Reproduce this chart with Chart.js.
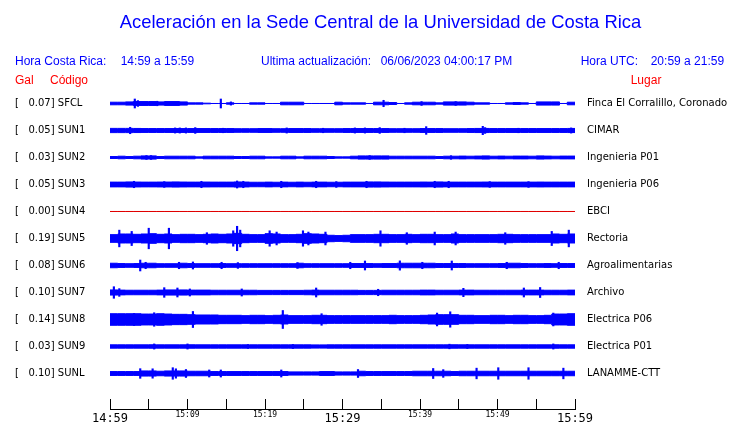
<!DOCTYPE html>
<html><head><meta charset="utf-8">
<script src="https://cdn.jsdelivr.net/npm/chart.js@4"></script>
<style>html,body{margin:0;padding:0;background:#fff}#wrap{width:740px;height:423px;position:relative}</style>
</head><body><div id="wrap"><canvas id="c" width="740" height="423"></canvas></div>
<script>
// ---------- DATA ----------
const codes = ['SFCL','SUN1','SUN2','SUN3','SUN4','SUN5','SUN6','SUN7','SUN8','SUN9','SUNL'];
const places = ['Finca El Corralillo, Coronado','CIMAR','Ingenieria P01','Ingenieria P06','EBCI','Rectoria','Agroalimentarias','Archivo','Electrica P06','Electrica P01','LANAMME-CTT'];
const peakGal = [0.07,0.05,0.03,0.05,0.00,0.19,0.08,0.10,0.14,0.03,0.10];
const timeTicks = ['14:59','','15:09','','15:19','','15:29','','15:39','','15:49','','15:59'];

// half-amplitude of the trace band (Gal), one value per minute (0..59)
const bandSFCL = [0.02,0.02,0.025,0.03,0.03,0.03,0.025,0.03,0.03,0.025,
 0.01,0.01,0.005,0,0,0.01,0,0,0.01,0.01,
 0,0,0.02,0.02,0.02,0,0,0,0,0.02,
 0.01,0.01,0.01,0,0.02,0.02,0.015,0,0.01,0.02,
 0.02,0.02,0.01,0.025,0.025,0.025,0.02,0.01,0.01,0,
 0,0.01,0.015,0.01,0,0.025,0.025,0.025,0,0.02];
const bandSUN1 = [0.033,0.033,0.033,0.032,0.03,0.03,0.03,0.03,0.03,0.03,
 0.03,0.03,0.03,0.03,0.03,0.03,0.028,0.028,0.028,0.03,
 0.03,0.028,0.028,0.03,0.03,0.03,0.028,0.028,0.028,0.028,
 0.03,0.03,0.03,0.03,0.03,0.03,0.028,0.028,0.028,0.028,
 0.03,0.03,0.03,0.028,0.028,0.028,0.03,0.032,0.032,0.03,
 0.03,0.03,0.03,0.03,0.03,0.03,0.03,0.03,0.03,0.032];
const bandSUN2 = [0.015,0.02,0.015,0.02,0.025,0.025,0.015,0.02,0.02,0.02,
 0.02,0.01,0.02,0.02,0.02,0.02,0.015,0.015,0.02,0.02,
 0.01,0.01,0.02,0.02,0.01,0.02,0.02,0.02,0.015,0.01,
 0.01,0.02,0.025,0.025,0.025,0.025,0.02,0.02,0.02,0.02,
 0.02,0.02,0.015,0.02,0.02,0.022,0.02,0.022,0.025,0.02,
 0.022,0.02,0.022,0.022,0.02,0.025,0.022,0.02,0.022,0.022];
const bandSUN3 = [0.037,0.037,0.04,0.038,0.037,0.037,0.038,0.038,0.04,0.038,
 0.037,0.037,0.038,0.037,0.037,0.037,0.04,0.038,0.035,0.035,
 0.037,0.035,0.037,0.035,0.037,0.035,0.037,0.037,0.035,0.035,
 0.037,0.037,0.037,0.04,0.04,0.038,0.037,0.037,0.037,0.037,
 0.038,0.037,0.04,0.037,0.037,0.037,0.037,0.037,0.038,0.037,
 0.037,0.037,0.037,0.037,0.037,0.038,0.037,0.037,0.037,0.037];
const bandSUN4 = [0,0,0,0,0,0,0,0,0,0, 0,0,0,0,0,0,0,0,0,0, 0,0,0,0,0,0,0,0,0,0,
 0,0,0,0,0,0,0,0,0,0, 0,0,0,0,0,0,0,0,0,0, 0,0,0,0,0,0,0,0,0,0];
const bandSUN5 = [0.06,0.07,0.07,0.065,0.07,0.075,0.065,0.07,0.06,0.065,
 0.065,0.06,0.065,0.07,0.065,0.07,0.08,0.065,0.06,0.06,
 0.075,0.07,0.06,0.06,0.065,0.075,0.07,0.065,0.05,0.045,
 0.05,0.06,0.06,0.06,0.065,0.065,0.06,0.06,0.065,0.06,
 0.065,0.065,0.06,0.06,0.07,0.06,0.06,0.06,0.06,0.06,
 0.065,0.065,0.06,0.06,0.06,0.06,0.06,0.07,0.065,0.07];
const bandSUN6 = [0.035,0.03,0.028,0.03,0.035,0.035,0.028,0.028,0.028,0.035,
 0.03,0.028,0.028,0.028,0.03,0.028,0.028,0.028,0.028,0.028,
 0.028,0.028,0.028,0.028,0.035,0.028,0.028,0.028,0.028,0.028,
 0.028,0.03,0.03,0.03,0.028,0.03,0.03,0.035,0.035,0.035,
 0.035,0.035,0.03,0.03,0.03,0.03,0.028,0.028,0.028,0.028,
 0.03,0.035,0.035,0.03,0.028,0.028,0.03,0.028,0.03,0.03];
const bandSUN7 = [0.04,0.037,0.035,0.035,0.035,0.035,0.037,0.04,0.04,0.04,
 0.037,0.037,0.037,0.035,0.035,0.035,0.035,0.035,0.035,0.033,
 0.033,0.033,0.033,0.033,0.033,0.035,0.037,0.035,0.035,0.035,
 0.035,0.035,0.033,0.033,0.033,0.035,0.035,0.035,0.035,0.035,
 0.037,0.037,0.035,0.035,0.035,0.037,0.037,0.035,0.035,0.035,
 0.035,0.035,0.035,0.037,0.037,0.037,0.035,0.035,0.035,0.037];
const bandSUN8 = [0.09,0.09,0.09,0.09,0.085,0.085,0.09,0.085,0.08,0.08,
 0.075,0.07,0.07,0.07,0.065,0.065,0.065,0.06,0.065,0.065,
 0.06,0.065,0.07,0.06,0.06,0.06,0.065,0.065,0.06,0.06,
 0.06,0.06,0.06,0.06,0.06,0.06,0.065,0.06,0.06,0.06,
 0.065,0.07,0.075,0.075,0.075,0.065,0.065,0.06,0.06,0.065,
 0.065,0.06,0.065,0.065,0.06,0.06,0.065,0.085,0.085,0.09];
const bandSUN9 = [0.026,0.026,0.026,0.026,0.026,0.027,0.026,0.026,0.026,0.026,
 0.027,0.026,0.026,0.026,0.026,0.026,0.026,0.026,0.026,0.026,
 0.026,0.026,0.026,0.026,0.026,0.026,0.025,0.025,0.026,0.026,
 0.026,0.026,0.026,0.026,0.026,0.026,0.026,0.026,0.026,0.026,
 0.026,0.026,0.026,0.026,0.027,0.026,0.026,0.026,0.026,0.026,
 0.026,0.026,0.026,0.026,0.026,0.026,0.026,0.027,0.026,0.026];
const bandSUNL = [0.03,0.03,0.03,0.03,0.04,0.04,0.035,0.04,0.04,0.04,
 0.035,0.035,0.035,0.03,0.03,0.03,0.03,0.03,0.03,0.03,
 0.03,0.03,0.03,0.025,0.025,0.025,0.025,0.03,0.03,0.025,
 0.025,0.025,0.035,0.03,0.03,0.03,0.03,0.03,0.03,0.035,
 0.035,0.035,0.035,0.035,0.03,0.035,0.035,0.035,0.035,0.035,
 0.035,0.035,0.035,0.035,0.035,0.035,0.035,0.035,0.035,0.035];

// isolated peaks: [minute after 14:59, half-amplitude in Gal]
const spikesSFCL = [[3.2,0.07],[3.6,0.045],[6.1,0.035],[14.3,0.07],[15.6,0.025],[35.3,0.05],[40.2,0.03],[44.6,0.03]];
const spikesSUN1 = [[2.6,0.05],[8.4,0.04],[9.0,0.04],[9.8,0.04],[11.0,0.045],[14.6,0.035],[22.8,0.04],[27.5,0.035],[31.6,0.04],[32.9,0.04],[34.8,0.045],[38.0,0.035],[40.8,0.06],[48.1,0.065],[48.4,0.045],[52.7,0.035],[59.5,0.04]];
const spikesSUN2 = [[4.7,0.03],[5.3,0.03],[33.5,0.03],[44.0,0.028]];
const spikesSUN3 = [[3.1,0.05],[7.0,0.045],[11.8,0.05],[16.4,0.055],[17.2,0.05],[22.1,0.05],[26.6,0.05],[29.2,0.045],[33.1,0.05],[41.9,0.05],[43.7,0.05],[49.0,0.045],[54.0,0.045]];
const spikesSUN4 = [];
const spikesSUN5 = [[1.2,0.13],[2.8,0.11],[5.0,0.16],[7.6,0.16],[12.5,0.09],[15.9,0.12],[16.4,0.19],[16.8,0.13],[20.6,0.12],[21.5,0.1],[24.9,0.12],[25.6,0.1],[27.8,0.1],[34.9,0.12],[38.3,0.09],[41.9,0.1],[44.6,0.1],[51.0,0.09],[57.0,0.11],[59.2,0.13]];
const spikesSUN6 = [[3.9,0.085],[4.6,0.05],[8.9,0.05],[10.7,0.055],[14.4,0.05],[16.5,0.045],[24.2,0.045],[31.0,0.05],[32.9,0.07],[37.4,0.072],[40.3,0.05],[44.1,0.07],[51.2,0.05],[57.9,0.05]];
const spikesSUN7 = [[0.5,0.09],[1.2,0.06],[7.0,0.075],[8.7,0.07],[10.3,0.055],[17.0,0.055],[26.6,0.07],[34.6,0.05],[45.6,0.065],[53.4,0.07],[55.5,0.078]];
const spikesSUN8 = [[3.1,0.095],[5.7,0.105],[10.7,0.125],[22.3,0.14],[27.3,0.09],[42.2,0.1],[43.9,0.12],[57.2,0.1]];
const spikesSUN9 = [[5.7,0.04],[10.0,0.04],[17.8,0.03],[23.6,0.032],[43.8,0.036],[46.1,0.032],[57.2,0.04]];
const spikesSUNL = [[3.9,0.075],[5.5,0.073],[8.1,0.09],[8.5,0.073],[9.8,0.062],[12.8,0.055],[14.3,0.055],[22.1,0.055],[32.0,0.062],[41.7,0.078],[43.0,0.06],[47.3,0.083],[50.1,0.09],[54.0,0.09],[58.5,0.083]];

// ---------- LAYOUT / STYLE ----------
const ROW_GAL = 0.42;           // vertical spacing between traces, in Gal
const BLUE = '#0000ff', RED = '#e00000';
const bands = [bandSFCL,bandSUN1,bandSUN2,bandSUN3,bandSUN4,bandSUN5,bandSUN6,bandSUN7,bandSUN8,bandSUN9,bandSUNL];
const spikes = [spikesSFCL,spikesSUN1,spikesSUN2,spikesSUN3,spikesSUN4,spikesSUN5,spikesSUN6,spikesSUN7,spikesSUN8,spikesSUN9,spikesSUNL];

const datasets = [];
const spikeData = [];
bands.forEach((band, k) => {
  const c = k * ROW_GAL;
  const color = peakGal[k] === 0 ? RED : BLUE;
  const pts = s => band.map((a, m) => ({x: m, y: c + s * a})).concat([{x: band.length, y: c + s * band[band.length - 1]}]);
  datasets.push({type: 'line', data: pts(-1), borderColor: color, borderWidth: 1, pointRadius: 0, stepped: 'before', fill: false});
  datasets.push({type: 'line', data: pts(1), borderColor: color, borderWidth: 1, pointRadius: 0, stepped: 'before', fill: '-1', backgroundColor: color});
  spikes[k].forEach(([m, a]) => spikeData.push({x: m, y: [c - a, c + a]}));
});
datasets.push({type: 'bar', data: spikeData, backgroundColor: BLUE, borderWidth: 0, barThickness: 1.5, grouped: false});

const decor = {
  id: 'decor',
  afterDraw(chart) {
    const ctx = chart.ctx, xs = chart.scales.x, bottom = chart.chartArea.bottom;
    ctx.save();
    ctx.strokeStyle = '#000'; ctx.lineWidth = 1;
    xs.ticks.forEach(t => {
      const px = Math.floor(xs.getPixelForValue(t.value)) + 0.5;
      ctx.beginPath(); ctx.moveTo(px, bottom - 10); ctx.lineTo(px, bottom); ctx.stroke();
    });
    ctx.textBaseline = 'alphabetic';
    ctx.fillStyle = BLUE;
    ctx.font = "18.4px 'Liberation Sans', Arial, sans-serif";
    ctx.textAlign = 'center';
    ctx.fillText('Aceleración en la Sede Central de la Universidad de Costa Rica', 380.5, 28);
    ctx.textAlign = 'left';
    ctx.font = "12px 'Liberation Sans', Arial, sans-serif";
    ctx.fillText('Hora Costa Rica:', 15, 65);
    ctx.fillText('14:59 a 15:59', 120.7, 65);
    ctx.fillText('Ultima actualización:', 261, 65);
    ctx.fillText('06/06/2023 04:00:17 PM', 380.7, 65);
    ctx.fillText('Hora UTC:', 580.7, 65);
    ctx.fillText('20:59 a 21:59', 650.7, 65);
    ctx.fillStyle = '#ff0000';
    ctx.fillText('Gal', 15, 84);
    ctx.fillText('Código', 50, 84);
    ctx.fillText('Lugar', 630.7, 84);
    ctx.restore();
  }
};

const yRange = {min: -0.5 * ROW_GAL, max: 11.315 * ROW_GAL};
const rowTicks = scale => { scale.ticks = codes.map((_, k) => ({value: k * ROW_GAL})); };
const labelFont = {family: "'DejaVu Sans', sans-serif", size: 10};

new Chart(document.getElementById('c'), {
  type: 'line',
  data: {datasets},
  plugins: [decor],
  options: {
    responsive: false, animation: false, devicePixelRatio: 1,
    layout: {padding: {left: 15, top: 90, right: 0, bottom: 0}},
    plugins: {legend: {display: false}, tooltip: {enabled: false}},
    scales: {
      x: {
        type: 'linear', position: 'bottom', min: 0, max: 60, offset: false,
        grid: {display: false, drawTicks: false},
        border: {display: true, color: '#000', width: 1},
        afterFit: s => { s.height = 14; },
        ticks: {
          stepSize: 5, autoSkip: false, maxRotation: 0, padding: 0, color: '#000',
          callback: v => timeTicks[Math.round(v / 5)],
          font: ctx => (ctx.tick && ctx.tick.value % 30 === 0)
            ? {family: "'DejaVu Sans Mono', monospace", size: 12, lineHeight: 1.65}
            : {family: "'DejaVu Sans Mono', monospace", size: 8, lineHeight: 1.6}
        }
      },
      y: {
        type: 'linear', position: 'left', reverse: true, ...yRange,
        grid: {display: false, drawTicks: false}, border: {display: false},
        afterBuildTicks: rowTicks,
        afterFit: s => { s.width = 95; },
        ticks: {autoSkip: false, crossAlign: 'far', padding: 0, color: '#000', font: labelFont,
          callback: (v, i) => '[   ' + peakGal[i].toFixed(2) + '] ' + codes[i]}
      },
      y2: {
        type: 'linear', position: 'right', reverse: true, ...yRange,
        grid: {display: false, drawTicks: true, tickLength: 12}, border: {display: false},
        afterBuildTicks: rowTicks,
        afterFit: s => { s.width = 165; },
        ticks: {autoSkip: false, crossAlign: 'near', padding: 0, color: '#000', font: labelFont,
          callback: (v, i) => places[i]}
      }
    }
  }
});
</script>
</body></html>
